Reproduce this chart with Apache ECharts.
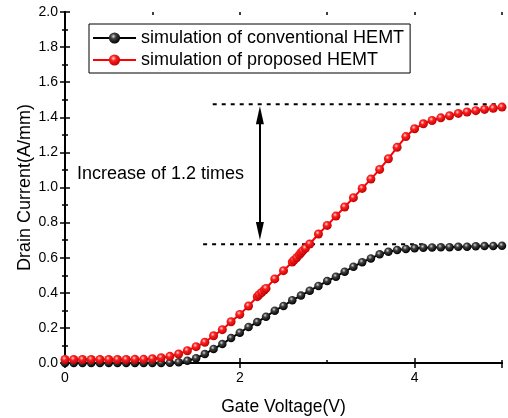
<!DOCTYPE html>
<html>
<head>
<meta charset="utf-8">
<script src="https://cdn.jsdelivr.net/npm/echarts@6/dist/echarts.min.js"></script>
<style>
  html, body { margin: 0; padding: 0; background: #fff; }
  #chart { width: 508px; height: 418px; }
</style>
</head>
<body>
<div id="chart"></div>
<script>
// Transfer characteristics (Id vs Vg) of the two HEMT structures
const FONT = '"Liberation Sans", Arial, Helvetica, sans-serif';

const conventionalVoltage = [
  0.0, 0.1, 0.2, 0.3, 0.4, 0.5, 0.6, 0.7, 0.8, 0.9,
  1.0, 1.1, 1.2, 1.3, 1.4, 1.5, 1.6, 1.7, 1.8, 1.9,
  2.0, 2.1, 2.2, 2.3, 2.4, 2.5, 2.6, 2.7, 2.8, 2.9,
  3.0, 3.1, 3.2, 3.3, 3.4, 3.5, 3.6, 3.7, 3.8, 3.9,
  4.0, 4.1, 4.2, 4.3, 4.4, 4.5, 4.6, 4.7, 4.8, 4.9, 5.0
];
const conventionalCurrent = [
  0, 0, 0, 0, 0, 0, 0, 0, 0, 0,
  0, 0, 0.001, 0.004, 0.013, 0.027, 0.051, 0.08, 0.108, 0.142,
  0.173, 0.205, 0.233, 0.264, 0.298, 0.325, 0.358, 0.384, 0.412, 0.439,
  0.467, 0.492, 0.52, 0.549, 0.574, 0.596, 0.619, 0.634, 0.644, 0.65,
  0.654, 0.657, 0.658, 0.659, 0.66, 0.662, 0.663, 0.665, 0.666, 0.667, 0.668
];

const proposedVoltage = [
  0.0, 0.1, 0.2, 0.3, 0.4, 0.5, 0.6, 0.7, 0.8, 0.9,
  1.0, 1.1, 1.2, 1.3, 1.4, 1.5, 1.6, 1.7, 1.8, 1.9,
  2.0, 2.1, 2.2, 2.22, 2.25, 2.28, 2.3, 2.4, 2.5, 2.6,
  2.62, 2.65, 2.68, 2.7, 2.72, 2.75, 2.8, 2.9, 3.0, 3.1,
  3.2, 3.3, 3.4, 3.5, 3.6, 3.7, 3.8, 3.9, 4.0, 4.1,
  4.2, 4.3, 4.4, 4.5, 4.6, 4.7, 4.8, 4.9, 5.0
];
const proposedCurrent = [
  0.02, 0.02, 0.02, 0.02, 0.02, 0.02, 0.02, 0.02, 0.021, 0.021,
  0.024, 0.03, 0.038, 0.051, 0.07, 0.093, 0.118, 0.155, 0.19, 0.235,
  0.277, 0.325, 0.378, 0.389, 0.402, 0.416, 0.425, 0.479, 0.526, 0.575,
  0.586, 0.6, 0.616, 0.628, 0.639, 0.653, 0.678, 0.735, 0.784, 0.837,
  0.889, 0.942, 0.995, 1.048, 1.103, 1.164, 1.229, 1.29, 1.335, 1.363,
  1.382, 1.397, 1.409, 1.422, 1.43, 1.438, 1.445, 1.451, 1.458
];

// Saturation levels marked with dashed guides, and the double arrow between them
const saturationLevels = [0.676, 1.474];
const guideStart = [1.58, 1.69];
const guideEnd = [4.1, 5.0];
const arrowVoltage = 2.23;
const arrowShaft = [0.752, 1.412];   // arrow heads are centred on these ends
const annotationText = 'Increase of 1.2 times';

const xTickLabels = ['0', '2', '4'];
const yTickLabels = ['0.0', '0.2', '0.4', '0.6', '0.8', '1.0', '1.2', '1.4', '1.6', '1.8', '2.0'];

const seriesNames = ['simulation of conventional HEMT', 'simulation of proposed HEMT'];

function pairs(xs, ys) { return xs.map((x, i) => [x, ys[i]]); }

function ball(light, mid, dark) {
  return {
    type: 'radial', x: 0.4, y: 0.35, r: 0.65,
    colorStops: [
      { offset: 0, color: light },
      { offset: 0.35, color: mid },
      { offset: 1, color: dark }
    ]
  };
}

const chart = echarts.init(document.getElementById('chart'), null, { renderer: 'canvas' });

const frame = { show: true, lineStyle: { color: '#000', width: 2 } };
const textBase = { fontFamily: FONT, color: '#000' };
const majorTick = { inside: true, length: 5, lineStyle: { width: 1.5, color: '#000' } };
const minorTick = { inside: true, length: 3, lineStyle: { width: 1.5, color: '#000' } };

const option = {
  animation: false,
  backgroundColor: '#fff',
  textStyle: { fontFamily: FONT },
  grid: { left: 65, right: 6, top: 12, bottom: 55, containLabel: false, outerBoundsMode: 'none' },
  legend: {
    data: seriesNames,
    orient: 'vertical',
    left: 89,
    top: 24,
    padding: [5, 6, 4, 3],
    itemGap: 4,
    itemWidth: 43,
    itemHeight: 14,
    borderColor: '#000',
    borderWidth: 1,
    borderRadius: 0,
    textStyle: Object.assign({ fontSize: 18 }, textBase),
    selectedMode: false
  },
  xAxis: [
    {
      type: 'value', min: 0, max: 5, interval: 2, position: 'bottom',
      name: 'Gate Voltage(V)', nameLocation: 'middle', nameGap: 35, nameMoveOverlap: false,
      nameTextStyle: Object.assign({ fontSize: 17.5 }, textBase),
      axisLine: frame,
      axisTick: majorTick,
      axisLabel: Object.assign({
        fontSize: 14, margin: 8, showMaxLabel: false,
        formatter: v => xTickLabels[Math.round(v / 2)] ?? ''
      }, textBase),
      splitLine: { show: false }
    },
    {
      type: 'value', min: 0, max: 5, interval: 2, position: 'top',
      axisLine: frame,
      axisTick: majorTick,
      axisLabel: { show: false },
      splitLine: { show: false }
    },
    // minor ticks (1 V spacing) along bottom and top edges
    {
      type: 'value', min: 0, max: 5, interval: 1, position: 'bottom',
      axisLine: { show: false },
      axisTick: minorTick,
      axisLabel: { show: false },
      splitLine: { show: false }
    },
    {
      type: 'value', min: 0, max: 5, interval: 1, position: 'top',
      axisLine: { show: false },
      axisTick: minorTick,
      axisLabel: { show: false },
      splitLine: { show: false }
    }
  ],
  yAxis: [
    {
      type: 'value', min: 0, max: 2, interval: 0.2, position: 'left',
      name: 'Drain Current(A/mm)', nameLocation: 'middle', nameGap: 31, nameMoveOverlap: false,
      nameTextStyle: Object.assign({ fontSize: 18 }, textBase),
      axisLine: frame,
      axisTick: majorTick,
      minorTick: { show: true, splitNumber: 2, length: 3, lineStyle: { width: 1.5, color: '#000' } },
      axisLabel: Object.assign({
        fontSize: 14, margin: 7,
        formatter: v => yTickLabels[Math.round(v / 0.2)] ?? ''
      }, textBase),
      splitLine: { show: false },
      minorSplitLine: { show: false }
    },
    {
      type: 'value', min: 0, max: 2, interval: 0.2, position: 'right',
      axisLine: frame,
      axisTick: majorTick,
      minorTick: { show: true, splitNumber: 2, length: 3, lineStyle: { width: 1.5, color: '#000' } },
      axisLabel: { show: false },
      splitLine: { show: false },
      minorSplitLine: { show: false }
    }
  ],
  series: [
    {
      name: 'guide-low', type: 'line', silent: true, symbol: 'none',
      data: [[guideStart[0], saturationLevels[0]], [guideEnd[0], saturationLevels[0]]],
      lineStyle: { color: '#000', width: 2, type: [4, 5] }, z: 1
    },
    {
      name: 'guide-high', type: 'line', silent: true, symbol: 'none',
      data: [[guideStart[1], saturationLevels[1]], [guideEnd[1], saturationLevels[1]]],
      lineStyle: { color: '#000', width: 2, type: [4, 5] }, z: 1
    },
    {
      name: 'gain-arrow', type: 'line', silent: true, symbol: 'none',
      data: [],
      markLine: {
        silent: true,
        symbol: ['triangle', 'triangle'],
        symbolSize: [8, 18],
        label: { show: false },
        lineStyle: { color: '#000', width: 2, type: 'solid' },
        data: [[
          { coord: [arrowVoltage, arrowShaft[0]] },
          { coord: [arrowVoltage, arrowShaft[1]] }
        ]]
      },
      z: 3
    },
    {
      name: seriesNames[0], type: 'line',
      data: pairs(conventionalVoltage, conventionalCurrent),
      symbol: 'circle', symbolSize: 8.5, showAllSymbol: true,
      lineStyle: { color: '#000', width: 2 },
      itemStyle: { color: ball('#d8d8d8', '#404040', '#000000'), borderWidth: 0 },
      z: 4
    },
    {
      name: seriesNames[1], type: 'line',
      data: pairs(proposedVoltage, proposedCurrent),
      symbol: 'circle', symbolSize: 9, showAllSymbol: true,
      lineStyle: { color: '#ff0000', width: 2 },
      itemStyle: { color: ball('#ffd8d8', '#ff2222', '#c00000'), borderWidth: 0 },
      z: 5
    }
  ],
  graphic: [
    {
      type: 'text', left: 77, top: 165,
      style: { text: annotationText, fontSize: 18, fontFamily: FONT, fill: '#000' }
    }
  ]
};

chart.setOption(option);
</script>
</body>
</html>
